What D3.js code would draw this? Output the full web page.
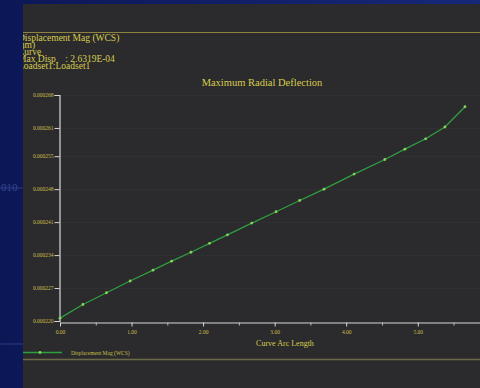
<!DOCTYPE html>
<html>
<head>
<meta charset="utf-8">
<script src="https://cdn.jsdelivr.net/npm/d3@7"></script>
<style>
  html, body { margin: 0; padding: 0; background: #0f1b5c; }
  svg { display: block; }
</style>
</head>
<body>
<div id="chart"></div>
<script>
// data
const arcLength = [0.00, 0.32, 0.65, 0.98, 1.30, 1.56, 1.83, 2.09, 2.34, 2.68, 3.02, 3.35, 3.69, 4.11, 4.54, 4.82, 5.11, 5.38, 5.66];
const dispMag = [0.0002206, 0.0002235, 0.0002260, 0.0002285, 0.0002308, 0.0002327, 0.0002346, 0.0002365, 0.0002383,
                 0.0002408, 0.0002432, 0.0002456, 0.0002480, 0.0002512, 0.0002543, 0.0002565, 0.0002587, 0.0002612, 0.0002655];
const yTicks = [0.000220, 0.000227, 0.000234, 0.000241, 0.000248, 0.000255, 0.000261, 0.000268];
const xTicks = [0, 1, 2, 3, 4, 5];
const xMinorTicks = [0.5, 1.5, 2.5, 3.5, 4.5, 5.5];
const headerLines = ["Displacement Mag (WCS)", "(mm)", "Curve", "Max Disp    : 2.6319E-04", "Loadset1:Loadset1"];
const chartTitle = "Maximum Radial Deflection";
const xTitle = "Curve Arc Length";
const seriesName = "Displacement Mag (WCS)";

const width = 480, height = 388;
const yellow = "#d8cc4e";
const font = "'Liberation Serif', 'DejaVu Serif', serif";

const svg = d3.select("#chart").append("svg")
  .attr("width", width)
  .attr("height", height);

// blue desktop behind the panel
const grad = svg.append("defs").append("linearGradient")
  .attr("id", "blue").attr("x1", 0).attr("x2", 1).attr("y1", 0).attr("y2", 0);
grad.append("stop").attr("offset", "0%").attr("stop-color", "#0c1756");
grad.append("stop").attr("offset", "100%").attr("stop-color", "#17287a");
svg.append("rect").attr("width", width).attr("height", height).attr("fill", "url(#blue)");
svg.append("text").attr("x", 1).attr("y", 191)
  .attr("font-family", font).attr("font-size", 11)
  .attr("fill", "#3a4a8e").text("010");
svg.append("line").attr("x1", 0).attr("x2", 23).attr("y1", 188).attr("y2", 188)
  .attr("stroke", "#2c3c86").attr("stroke-width", 1);
svg.append("line").attr("x1", 0).attr("x2", 23).attr("y1", 344).attr("y2", 344)
  .attr("stroke", "#2c3c86").attr("stroke-width", 1);

// grey panel
svg.append("clipPath").attr("id", "panelClip")
  .append("rect").attr("x", 23).attr("y", 4).attr("width", width - 23).attr("height", height - 4);
const panel = svg.append("g").attr("clip-path", "url(#panelClip)");
panel.append("rect").attr("x", 23).attr("y", 4).attr("width", width - 23).attr("height", height - 4)
  .attr("fill", "#2b2b2d");

// separator lines
panel.append("line").attr("x1", 23).attr("x2", width).attr("y1", 32.5).attr("y2", 32.5)
  .attr("stroke", "#8c8340").attr("stroke-width", 1.2);
panel.append("line").attr("x1", 23).attr("x2", width).attr("y1", 359.5).attr("y2", 359.5)
  .attr("stroke", "#6d6a4a").attr("stroke-width", 1.5);

// header text (runs off the left edge of the panel)
panel.selectAll("text.header")
  .data(headerLines)
  .enter()
  .append("text")
  .attr("class", "header")
  .attr("x", (d, i) => i === 1 ? 14 : 18)
  .attr("y", (d, i) => 41 + i * 7)
  .attr("font-family", font)
  .attr("font-size", 9.5)
  .attr("fill", yellow)
  .style("white-space", "pre")
  .text(d => d);

// scales
const x = d3.scaleLinear().domain([0, 5.87]).range([60, 480]);
const y = d3.scaleLinear().domain([0.000220, 0.000268]).range([321, 95]);

// faint grid
panel.selectAll("line.grid")
  .data(yTicks.slice(1))
  .enter()
  .append("line")
  .attr("x1", 60).attr("x2", width)
  .attr("y1", d => Math.round(y(d)) + 0.5).attr("y2", d => Math.round(y(d)) + 0.5)
  .attr("stroke", "#303032").attr("stroke-width", 1);

// title
panel.append("text")
  .attr("x", 262).attr("y", 86)
  .attr("text-anchor", "middle")
  .attr("font-family", font).attr("font-size", 10.5)
  .attr("fill", yellow)
  .text(chartTitle);

// y axis
const yAxis = panel.append("g")
  .attr("transform", "translate(59.5,0)")
  .call(d3.axisLeft(y).tickValues(yTicks).tickSize(5).tickFormat(d3.format(".6f")));
yAxis.select(".domain").attr("stroke", "#d8d8d8").attr("stroke-width", 1.2);
yAxis.selectAll(".tick line").attr("stroke", "#d8d8d8");
yAxis.selectAll(".tick text")
  .attr("x", -6).attr("dy", "0.32em")
  .attr("font-family", font).attr("font-size", 5.5)
  .attr("fill", "#c9bf48");

// x axis
const xAxis = panel.append("g")
  .attr("transform", "translate(0,322.5)")
  .call(d3.axisBottom(x).tickValues(xTicks).tickSize(4).tickSizeOuter(0).tickFormat(d3.format(".2f")));
xAxis.select(".domain").attr("stroke", "#d8d8d8").attr("stroke-width", 1.2);
xAxis.selectAll(".tick line").attr("stroke", "#d8d8d8");
xAxis.selectAll(".tick text")
  .attr("y", 8)
  .attr("font-family", font).attr("font-size", 5.5)
  .attr("fill", "#c9bf48");
panel.append("g")
  .attr("transform", "translate(0,322.5)")
  .call(d3.axisBottom(x).tickValues(xMinorTicks).tickSize(3).tickFormat(""))
  .call(g => g.select(".domain").remove())
  .selectAll(".tick line").attr("stroke", "#bdbdbd");

panel.append("text")
  .attr("x", 285).attr("y", 346)
  .attr("text-anchor", "middle")
  .attr("font-family", font).attr("font-size", 8)
  .attr("fill", yellow)
  .text(xTitle);

// the curve
const pts = arcLength.map((d, i) => ({ s: d, v: dispMag[i] }));
panel.append("path")
  .datum(pts)
  .attr("fill", "none")
  .attr("stroke", "#2f9e3f")
  .attr("stroke-width", 1.3)
  .attr("d", d3.line().x(d => x(d.s)).y(d => y(d.v)));
panel.selectAll("circle.pt")
  .data(pts)
  .enter()
  .append("circle")
  .attr("cx", d => x(d.s))
  .attr("cy", d => y(d.v))
  .attr("r", 1.4)
  .attr("fill", "#86d45c");

// legend
panel.append("line").attr("x1", 23).attr("x2", 62).attr("y1", 352.5).attr("y2", 352.5)
  .attr("stroke", "#2f9e3f").attr("stroke-width", 1.3);
panel.append("circle").attr("cx", 40).attr("cy", 352.5).attr("r", 1.4).attr("fill", "#86d45c");
panel.append("text")
  .attr("x", 71).attr("y", 354.5)
  .attr("font-family", font).attr("font-size", 5.5)
  .attr("fill", "#c9bf48")
  .text(seriesName);
</script>
</body>
</html>
